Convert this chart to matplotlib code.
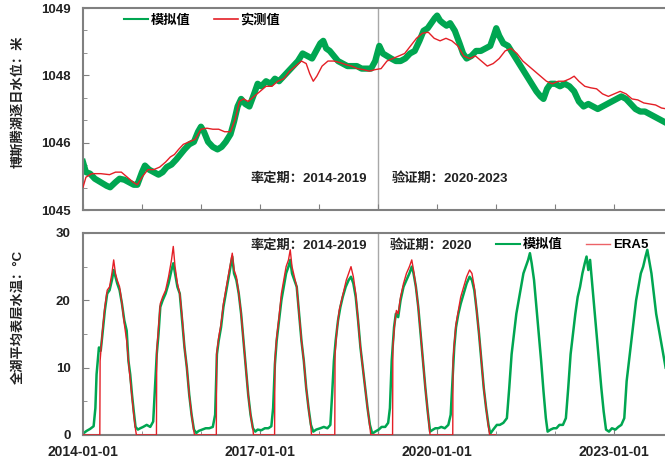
import numpy as np
import pandas as pd
import matplotlib
matplotlib.use("Agg")
import matplotlib.pyplot as plt
import matplotlib.dates as mdates
from matplotlib.lines import Line2D

plt.rcParams["font.family"] = ["Liberation Sans", "Noto Sans CJK SC", "DejaVu Sans"]
plt.rcParams["font.weight"] = "bold"

# ---- lake water level (m), decimal years ----
wl_model_t = [2014.00, 2014.05, 2014.12, 2014.20, 2014.30, 2014.40, 2014.46, 2014.55, 2014.62, 2014.70,
              2014.78, 2014.86, 2014.92, 2015.00, 2015.05, 2015.12, 2015.20, 2015.28, 2015.35, 2015.42,
              2015.50, 2015.58, 2015.65, 2015.72, 2015.80, 2015.88, 2015.95, 2016.00, 2016.05, 2016.12,
              2016.20, 2016.28, 2016.35, 2016.42, 2016.50, 2016.56, 2016.62, 2016.68, 2016.75, 2016.82,
              2016.90, 2016.96, 2017.02, 2017.10, 2017.18, 2017.25, 2017.32, 2017.40, 2017.48, 2017.56,
              2017.64, 2017.72, 2017.80, 2017.88, 2017.95, 2018.02, 2018.07, 2018.12, 2018.18, 2018.25,
              2018.32, 2018.40, 2018.48, 2018.56, 2018.64, 2018.72, 2018.80, 2018.88, 2018.95, 2019.02,
              2019.08, 2019.15, 2019.22, 2019.30, 2019.38, 2019.46, 2019.54, 2019.62, 2019.70, 2019.77,
              2019.84, 2019.90, 2019.96, 2020.00, 2020.05, 2020.10, 2020.16, 2020.22, 2020.30, 2020.38,
              2020.44, 2020.50, 2020.58, 2020.66, 2020.74, 2020.82, 2020.90, 2020.96, 2021.00, 2021.05,
              2021.12, 2021.20, 2021.28, 2021.36, 2021.44, 2021.52, 2021.60, 2021.68, 2021.75, 2021.80,
              2021.86, 2021.92, 2022.00, 2022.08, 2022.16, 2022.24, 2022.32, 2022.40, 2022.48, 2022.56,
              2022.64, 2022.72, 2022.80, 2022.88, 2022.96, 2023.04, 2023.12, 2023.20, 2023.28, 2023.36,
              2023.44, 2023.52, 2023.60, 2023.68, 2023.76, 2023.84, 2023.92]
wl_model = [1045.95, 1045.75, 1045.72, 1045.62, 1045.55, 1045.48, 1045.45, 1045.55, 1045.62, 1045.60,
            1045.55, 1045.50, 1045.50, 1045.75, 1045.88, 1045.80, 1045.75, 1045.70, 1045.75, 1045.85,
            1045.90, 1046.00, 1046.10, 1046.20, 1046.30, 1046.35, 1046.55, 1046.65, 1046.55, 1046.35,
            1046.25, 1046.20, 1046.25, 1046.35, 1046.50, 1046.75, 1047.05, 1047.20, 1047.10, 1047.05,
            1047.30, 1047.50, 1047.45, 1047.55, 1047.50, 1047.60, 1047.55, 1047.65, 1047.75, 1047.85,
            1047.95, 1048.10, 1048.05, 1048.00, 1048.15, 1048.30, 1048.35, 1048.20, 1048.15, 1048.05,
            1047.95, 1047.90, 1047.85, 1047.85, 1047.85, 1047.80, 1047.80, 1047.80, 1047.95, 1048.25,
            1048.10, 1048.05, 1048.00, 1047.95, 1047.95, 1048.00, 1048.10, 1048.15, 1048.35, 1048.55,
            1048.60, 1048.70, 1048.80, 1048.85, 1048.75, 1048.70, 1048.65, 1048.70, 1048.55, 1048.30,
            1048.10, 1048.00, 1048.05, 1048.15, 1048.15, 1048.20, 1048.25, 1048.45, 1048.60, 1048.45,
            1048.30, 1048.25, 1048.10, 1047.95, 1047.80, 1047.65, 1047.50, 1047.35, 1047.25, 1047.20,
            1047.40, 1047.50, 1047.50, 1047.45, 1047.50, 1047.45, 1047.35, 1047.15, 1047.05, 1047.10,
            1047.05, 1047.00, 1047.05, 1047.10, 1047.15, 1047.20, 1047.25, 1047.20, 1047.10, 1047.00,
            1046.95, 1046.95, 1046.90, 1046.85, 1046.80, 1046.75, 1046.70]

wl_obs_t = [2014.00, 2014.05, 2014.15, 2014.30, 2014.45, 2014.55, 2014.65, 2014.75, 2014.85, 2014.92,
            2015.00, 2015.10, 2015.20, 2015.30, 2015.40, 2015.48, 2015.55, 2015.62, 2015.70, 2015.80,
            2015.90, 2016.00, 2016.10, 2016.20, 2016.30, 2016.40, 2016.50, 2016.58, 2016.65, 2016.72,
            2016.80, 2016.90, 2017.00, 2017.10, 2017.20, 2017.30, 2017.40, 2017.50, 2017.60, 2017.70,
            2017.78, 2017.84, 2017.90, 2017.96, 2018.05, 2018.15, 2018.25, 2018.35, 2018.45, 2018.55,
            2018.65, 2018.75, 2018.85, 2018.95, 2019.05, 2019.15, 2019.25, 2019.35, 2019.45, 2019.55,
            2019.65, 2019.75, 2019.85, 2019.95, 2020.05, 2020.15, 2020.25, 2020.35, 2020.45, 2020.55,
            2020.65, 2020.75, 2020.85, 2020.95, 2021.05, 2021.15, 2021.25, 2021.35, 2021.45, 2021.55,
            2021.65, 2021.75, 2021.85, 2021.95, 2022.05, 2022.15, 2022.25, 2022.32, 2022.40, 2022.50,
            2022.60, 2022.70, 2022.80, 2022.90, 2023.00, 2023.10, 2023.20, 2023.30, 2023.40, 2023.50,
            2023.60, 2023.70, 2023.80, 2023.90]
wl_obs = [1045.45, 1045.65, 1045.72, 1045.72, 1045.70, 1045.75, 1045.75, 1045.65, 1045.55, 1045.50,
          1045.65, 1045.80, 1045.80, 1045.85, 1045.95, 1046.05, 1046.10, 1046.20, 1046.30, 1046.35,
          1046.40, 1046.60, 1046.62, 1046.60, 1046.60, 1046.55, 1046.55, 1046.80, 1047.15, 1047.20,
          1047.15, 1047.25, 1047.35, 1047.45, 1047.45, 1047.55, 1047.60, 1047.75, 1047.85, 1047.95,
          1047.90, 1047.70, 1047.55, 1047.65, 1047.85, 1047.95, 1047.95, 1047.92, 1047.88, 1047.85,
          1047.80, 1047.78, 1047.75, 1047.78, 1047.80, 1047.95, 1048.00, 1048.05, 1048.10, 1048.25,
          1048.40, 1048.50, 1048.52, 1048.40, 1048.35, 1048.40, 1048.35, 1048.25, 1048.05, 1048.00,
          1048.05, 1047.95, 1047.85, 1047.90, 1048.00, 1048.15, 1048.20, 1048.10, 1047.95, 1047.85,
          1047.75, 1047.65, 1047.55, 1047.50, 1047.55, 1047.55, 1047.60, 1047.65, 1047.55, 1047.45,
          1047.42, 1047.40, 1047.30, 1047.25, 1047.30, 1047.35, 1047.30, 1047.20, 1047.18, 1047.12,
          1047.10, 1047.08, 1047.02, 1047.00]

# ---- lake-mean surface water temperature (degC), decimal years ----
wt_model_t = [2014.00, 2014.06, 2014.12, 2014.18, 2014.21, 2014.23, 2014.25, 2014.27, 2014.30, 2014.33,
              2014.37, 2014.41, 2014.45, 2014.49, 2014.52, 2014.55, 2014.58, 2014.62, 2014.66, 2014.70,
              2014.74, 2014.77, 2014.80, 2014.83, 2014.86, 2014.89, 2014.93, 2014.97,
              2015.02, 2015.08, 2015.14, 2015.19, 2015.22, 2015.25, 2015.28, 2015.31, 2015.35, 2015.40,
              2015.45, 2015.50, 2015.53, 2015.56, 2015.60, 2015.64, 2015.68, 2015.72, 2015.76, 2015.80,
              2015.84, 2015.88, 2015.92, 2015.96,
              2016.02, 2016.08, 2016.14, 2016.20, 2016.24, 2016.27, 2016.30, 2016.34, 2016.38, 2016.42,
              2016.46, 2016.50, 2016.53, 2016.56, 2016.60, 2016.64, 2016.68, 2016.72, 2016.76, 2016.80,
              2016.84, 2016.88, 2016.92, 2016.96,
              2017.02, 2017.08, 2017.14, 2017.19, 2017.22, 2017.25, 2017.28, 2017.32, 2017.36, 2017.40,
              2017.44, 2017.48, 2017.51, 2017.54, 2017.58, 2017.62, 2017.66, 2017.70, 2017.74, 2017.78,
              2017.82, 2017.86, 2017.90, 2017.95,
              2018.02, 2018.08, 2018.14, 2018.19, 2018.22, 2018.25, 2018.28, 2018.32, 2018.36, 2018.40,
              2018.45, 2018.50, 2018.54, 2018.58, 2018.62, 2018.66, 2018.70, 2018.74, 2018.78, 2018.82,
              2018.86, 2018.90, 2018.95,
              2019.01, 2019.06, 2019.12, 2019.17, 2019.20, 2019.23, 2019.27, 2019.30, 2019.34, 2019.38,
              2019.43, 2019.48, 2019.53, 2019.57, 2019.60, 2019.64, 2019.68, 2019.72, 2019.76, 2019.80,
              2019.84, 2019.88, 2019.93, 2019.97,
              2020.02, 2020.07, 2020.13, 2020.19, 2020.23, 2020.26, 2020.29, 2020.32, 2020.36, 2020.40,
              2020.45, 2020.50, 2020.55, 2020.59, 2020.63, 2020.67, 2020.71, 2020.75, 2020.79, 2020.83,
              2020.87, 2020.90, 2020.95,
              2021.01, 2021.06, 2021.12, 2021.18, 2021.22, 2021.26, 2021.30, 2021.34, 2021.38, 2021.42,
              2021.46, 2021.50, 2021.54, 2021.57, 2021.60, 2021.64, 2021.68, 2021.72, 2021.76, 2021.80,
              2021.84, 2021.87, 2021.92, 2021.97,
              2022.02, 2022.07, 2022.13, 2022.18, 2022.22, 2022.26, 2022.30, 2022.34, 2022.38, 2022.42,
              2022.46, 2022.50, 2022.53, 2022.56, 2022.59, 2022.62, 2022.66, 2022.70, 2022.74, 2022.78,
              2022.82, 2022.86, 2022.91, 2022.96,
              2023.02, 2023.07, 2023.12, 2023.17, 2023.21, 2023.25, 2023.29, 2023.33, 2023.37, 2023.41,
              2023.45, 2023.49, 2023.53, 2023.56, 2023.59, 2023.63, 2023.67, 2023.71, 2023.75, 2023.79,
              2023.83, 2023.87]
wt_model = [0.2, 0.6, 0.9, 1.3, 4.0, 9.0, 11.0, 13.0, 12.5, 15.0,
            18.5, 21.0, 21.5, 23.0, 24.5, 23.5, 22.5, 21.5, 19.5, 17.0,
            15.5, 11.0, 9.0, 6.0, 3.5, 1.2, 0.8, 1.0,
            1.2, 1.5, 1.2, 2.0, 7.0, 12.0, 15.0, 19.0, 20.0, 21.0,
            22.5, 24.5, 25.5, 24.0, 22.0, 21.0, 17.0, 13.0, 10.0, 6.0,
            3.0, 0.8, 0.3, 0.6,
            0.8, 1.0, 1.0, 1.2, 3.0, 12.0, 14.0, 16.0, 19.0, 21.0,
            23.0, 25.0, 26.5, 24.0, 23.0, 21.0, 18.0, 14.0, 10.0, 6.0,
            3.0, 1.0, 0.5, 0.8,
            0.7, 1.0, 1.0, 1.3, 4.0, 10.5, 14.0, 17.0, 20.0, 22.0,
            24.0, 25.0, 26.0, 24.0, 23.0, 22.0, 18.0, 14.0, 11.0, 7.0,
            4.0, 1.5, 0.5, 0.8,
            1.0, 1.2, 1.0, 1.5, 6.0, 11.0, 14.0, 17.0, 19.0, 20.5,
            22.0, 23.0, 23.5, 22.5, 20.5, 17.0, 13.0, 10.0, 7.0, 4.0,
            1.5, 0.2, 0.5,
            0.8, 1.2, 1.2, 1.8, 4.0, 11.0, 16.0, 18.0, 17.5, 20.0,
            22.0, 23.0, 24.0, 25.0, 24.0, 22.0, 19.0, 15.0, 11.0, 7.0,
            3.5, 0.5, 0.8, 1.0,
            1.0, 1.2, 1.0, 1.5, 3.0, 8.0, 13.0, 16.0, 18.0, 19.5,
            21.0, 22.5, 23.5, 23.0, 21.5, 18.5, 15.0, 11.0, 7.0, 4.0,
            1.5, 0.2, 0.8,
            1.5, 1.5, 1.8, 2.5, 7.0, 12.0, 15.0, 18.0, 20.0, 22.0,
            24.0, 25.0, 26.0, 27.0, 25.5, 23.0, 19.0, 15.0, 11.0, 6.5,
            2.5, 0.5, 0.8, 1.0,
            1.0, 1.5, 1.5, 2.5, 7.0, 12.0, 15.0, 18.0, 20.5, 22.0,
            24.0, 25.5, 26.5, 24.5, 26.0, 23.0, 19.0, 15.0, 11.0, 7.0,
            3.5, 0.8, 0.5, 1.0,
            0.8, 1.2, 1.5, 2.5, 8.0, 11.0, 14.0, 17.0, 20.0, 22.0,
            24.0, 25.0, 26.5, 27.5, 26.0, 24.0, 21.0, 18.0, 16.0, 14.0,
            12.0, 10.0]

wt_era5_t = [2014.00, 2014.285, 2014.29, 2014.33, 2014.37, 2014.41, 2014.45, 2014.49, 2014.52, 2014.55,
             2014.58, 2014.62, 2014.66, 2014.70, 2014.74, 2014.78, 2014.82, 2014.86, 2014.89, 2014.905,
             2015.245, 2015.25, 2015.28, 2015.31, 2015.35, 2015.40, 2015.45, 2015.50, 2015.53, 2015.56,
             2015.60, 2015.64, 2015.68, 2015.72, 2015.76, 2015.80, 2015.84, 2015.88, 2015.89,
             2016.26, 2016.265, 2016.30, 2016.34, 2016.38, 2016.42, 2016.46, 2016.50, 2016.53, 2016.56,
             2016.60, 2016.64, 2016.68, 2016.72, 2016.76, 2016.80, 2016.84, 2016.88, 2016.89,
             2017.245, 2017.25, 2017.28, 2017.32, 2017.36, 2017.40, 2017.44, 2017.48, 2017.51, 2017.54,
             2017.58, 2017.62, 2017.66, 2017.70, 2017.74, 2017.78, 2017.82, 2017.86, 2017.87,
             2018.265, 2018.27, 2018.30, 2018.34, 2018.38, 2018.42, 2018.46, 2018.50, 2018.54, 2018.58,
             2018.62, 2018.66, 2018.70, 2018.74, 2018.78, 2018.82, 2018.86, 2018.875,
             2019.245, 2019.25, 2019.28, 2019.31, 2019.34, 2019.38, 2019.43, 2019.48, 2019.53, 2019.57,
             2019.60, 2019.64, 2019.68, 2019.72, 2019.76, 2019.80, 2019.84, 2019.87, 2019.88,
             2020.265, 2020.27, 2020.29, 2020.32, 2020.36, 2020.40, 2020.45, 2020.50, 2020.55, 2020.59,
             2020.63, 2020.67, 2020.71, 2020.75, 2020.79, 2020.83, 2020.87, 2020.89, 2020.99]
wt_era5 = [0.0, 0.0, 11.0, 15.5, 19.0, 21.5, 22.0, 24.0, 26.0, 24.0,
           23.0, 22.0, 19.5, 16.5, 14.0, 10.0, 6.5, 3.0, 0.8, 0.0,
           0.0, 12.5, 16.0, 19.5, 20.5, 21.5, 23.5, 26.0, 28.0, 25.0,
           22.5, 21.0, 17.5, 13.0, 10.0, 6.0, 3.0, 0.5, 0.0,
           0.0, 12.0, 14.5, 16.5, 19.5, 21.5, 23.5, 25.5, 27.0, 24.5,
           23.5, 21.0, 18.0, 14.0, 10.0, 6.0, 3.0, 0.8, 0.0,
           0.0, 11.0, 14.5, 17.5, 21.0, 23.0, 25.0, 26.0, 27.5, 25.0,
           23.5, 22.0, 18.0, 14.0, 11.0, 7.0, 4.0, 1.2, 0.0,
           0.0, 12.0, 15.5, 18.5, 20.0, 21.5, 23.0, 24.0, 25.0, 23.5,
           21.0, 17.0, 13.0, 10.0, 7.0, 4.0, 1.2, 0.0,
           0.0, 13.0, 16.5, 18.5, 18.0, 20.5, 22.5, 24.0, 25.0, 26.0,
           24.5, 22.0, 19.0, 15.0, 11.0, 7.0, 3.5, 0.8, 0.0,
           0.0, 11.0, 13.5, 16.5, 18.5, 20.5, 22.0, 23.5, 24.5, 24.0,
           22.0, 18.5, 15.0, 11.0, 7.0, 4.0, 1.2, 0.0, 0.0]

wl_ticks = [1045, 1045 + 4 / 3, 1045 + 8 / 3, 1049]
wl_ticklabels = ["1045", "1046", "1048", "1049"]
x_ticklabels = ["2014-01-01", "2017-01-01", "2020-01-01", "2023-01-01"]

GREEN = "#00a651"
RED = "#e41f26"
SPINE = "#808080"


def to_dates(dec_years):
    out = []
    for t in dec_years:
        y = int(np.floor(t))
        out.append(pd.Timestamp(year=y, month=1, day=1) + pd.Timedelta(days=(t - y) * 365.25))
    return pd.DatetimeIndex(out)


def style_axes(ax):
    for side in ["left", "top", "bottom"]:
        ax.spines[side].set_color(SPINE)
        ax.spines[side].set_linewidth(1.5)
    ax.spines["right"].set_visible(False)
    ax.xaxis.set_minor_locator(mdates.YearLocator(1))
    ax.tick_params(which="both", direction="in", colors=SPINE, labelcolor="#222222")
    ax.tick_params(which="major", length=4)
    ax.tick_params(which="minor", length=3)
    ax.tick_params(axis="y", labelsize=9.5, pad=9)
    ax.set_xlim(pd.Timestamp("2014-01-01"), pd.Timestamp("2023-11-11"))
    ax.axvline(pd.Timestamp("2019-01-01"), color="#a8a8a8", lw=1.0, zorder=1)


fig = plt.figure(figsize=(6.65, 4.63), dpi=100)
ax1 = fig.add_axes([0.1248, 0.5464, 0.8752, 0.4363])
ax2 = fig.add_axes([0.1248, 0.0605, 0.8752, 0.4363])

# water level
ax1.plot(to_dates(wl_model_t), wl_model, color=GREEN, lw=4.5, zorder=2)
ax1.plot(to_dates(wl_obs_t), wl_obs, color=RED, lw=1.0, zorder=3)
style_axes(ax1)
ax1.set_ylim(1045, 1049)
ax1.set_yticks(wl_ticks)
ax1.set_yticklabels(wl_ticklabels)
ax1.set_yticks(np.linspace(1045, 1049, 10), minor=True)
ax1.set_xticks(to_dates(list(range(2014, 2024))))
ax1.set_xticklabels([])
ax1.text(0.287, 0.158, "率定期：2014-2019", transform=ax1.transAxes, fontsize=9.5,
         fontweight="bold", ha="left", va="center", color="#222222")
ax1.text(0.531, 0.158, "验证期：2020-2023", transform=ax1.transAxes, fontsize=9.5,
         fontweight="bold", ha="left", va="center", color="#222222")
h1 = [Line2D([], [], color=GREEN, lw=1.5), Line2D([], [], color=RED, lw=1.2)]
ax1.legend(h1, ["模拟值", "实测值"], loc="upper left", bbox_to_anchor=(0.05, 1.03), ncol=2,
           frameon=False, fontsize=9.5, handlelength=1.8, handletextpad=0.2, columnspacing=1.8)

# water temperature
ax2.plot(to_dates(wt_model_t), wt_model, color=GREEN, lw=1.8, zorder=2)
ax2.plot(to_dates(wt_era5_t), wt_era5, color=RED, lw=1.0, zorder=3)
style_axes(ax2)
ax2.set_ylim(0, 30)
ax2.set_yticks([0, 10, 20, 30])
ax2.set_yticks([5, 15, 25], minor=True)
ax2.set_xticks(to_dates([2014, 2017, 2020, 2023]))
ax2.set_xticklabels(x_ticklabels)
ax2.tick_params(axis="x", labelsize=10, pad=7)
ax2.text(0.287, 0.94, "率定期：2014-2019", transform=ax2.transAxes, fontsize=9.5,
         fontweight="bold", ha="left", va="center", color="#222222")
ax2.text(0.527, 0.94, "验证期：2020", transform=ax2.transAxes, fontsize=9.5,
         fontweight="bold", ha="left", va="center", color="#222222")
h2 = [Line2D([], [], color=GREEN, lw=1.5), Line2D([], [], color=RED, lw=1.0, alpha=0.7)]
ax2.legend(h2, ["模拟值", "ERA5"], loc="upper left", bbox_to_anchor=(0.69, 1.03), ncol=2,
           frameon=False, fontsize=9.5, handlelength=1.8, handletextpad=0.2, columnspacing=1.8)

fig.text(18 / 665, 1 - 102 / 463, "博斯腾湖逐日水位：米", rotation=90, ha="center", va="center",
         fontsize=9.5, fontweight="bold", color="#222222")
fig.text(18 / 665, 1 - 317 / 463, "全湖平均表层水温：°C", rotation=90, ha="center", va="center",
         fontsize=9.5, fontweight="bold", color="#222222")

fig.savefig("out.png", dpi=100)
